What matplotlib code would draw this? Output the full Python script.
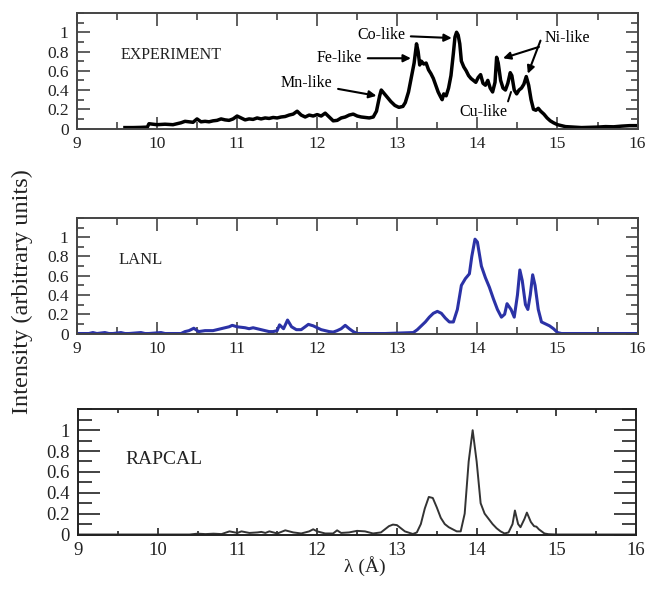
import matplotlib
matplotlib.use("Agg")
import matplotlib.pyplot as plt
from matplotlib.ticker import MultipleLocator, FixedLocator, FormatStrFormatter

plt.rcParams['font.family'] = ['Liberation Serif', 'DejaVu Serif']

# EXPERIMENT spectrum
exp_x = [9.60, 9.70, 9.80, 9.88, 9.90, 9.95, 10.00, 10.10, 10.20, 10.25, 10.30, 10.35,
         10.40, 10.45, 10.50, 10.55, 10.60, 10.65, 10.70, 10.75, 10.80, 10.85, 10.90, 10.95,
         11.00, 11.05, 11.10, 11.15, 11.20, 11.25, 11.30, 11.35, 11.40, 11.45, 11.50, 11.55,
         11.60, 11.65, 11.70, 11.75, 11.80, 11.85, 11.90, 11.95, 12.00, 12.05, 12.10, 12.15,
         12.20, 12.25, 12.30, 12.35, 12.40, 12.45, 12.50, 12.55, 12.60, 12.65, 12.70, 12.74,
         12.78, 12.80, 12.83, 12.87, 12.92, 12.97, 13.02, 13.07, 13.10, 13.14, 13.18, 13.21,
         13.24, 13.26, 13.28, 13.30, 13.33, 13.36, 13.39, 13.42, 13.45, 13.48, 13.51, 13.54,
         13.56, 13.58, 13.61, 13.64, 13.67, 13.70, 13.72, 13.74, 13.76, 13.78, 13.80, 13.83,
         13.86, 13.89, 13.92, 13.95, 13.98, 14.01, 14.04, 14.07, 14.10, 14.13, 14.16, 14.19,
         14.22, 14.24, 14.26, 14.29, 14.32, 14.35, 14.38, 14.41, 14.43, 14.46, 14.49, 14.52,
         14.55, 14.58, 14.61, 14.64, 14.67, 14.70, 14.73, 14.76, 14.79, 14.83, 14.87, 14.91,
         14.95, 15.00, 15.05, 15.10, 15.20, 15.30, 15.40, 15.50, 15.60, 15.70, 15.80, 15.90,
         16.00]
exp_y = [0.010, 0.010, 0.012, 0.015, 0.050, 0.045, 0.040, 0.045, 0.040, 0.050, 0.060, 0.075,
         0.070, 0.065, 0.100, 0.070, 0.075, 0.070, 0.080, 0.085, 0.100, 0.090, 0.085, 0.100,
         0.130, 0.110, 0.090, 0.100, 0.095, 0.110, 0.100, 0.110, 0.105, 0.115, 0.110, 0.120,
         0.125, 0.140, 0.150, 0.180, 0.140, 0.120, 0.140, 0.130, 0.145, 0.130, 0.160, 0.120,
         0.080, 0.085, 0.110, 0.120, 0.140, 0.150, 0.130, 0.120, 0.115, 0.110, 0.120, 0.180,
         0.340, 0.400, 0.370, 0.330, 0.280, 0.240, 0.220, 0.230, 0.270, 0.380, 0.550, 0.680,
         0.880, 0.800, 0.660, 0.700, 0.670, 0.680, 0.610, 0.570, 0.520, 0.450, 0.380, 0.330,
         0.300, 0.360, 0.340, 0.420, 0.550, 0.780, 0.950, 1.000, 0.970, 0.880, 0.700, 0.640,
         0.600, 0.550, 0.520, 0.500, 0.480, 0.530, 0.560, 0.470, 0.450, 0.500, 0.420, 0.380,
         0.480, 0.740, 0.680, 0.500, 0.420, 0.400, 0.470, 0.580, 0.550, 0.400, 0.360, 0.400,
         0.420, 0.460, 0.540, 0.450, 0.300, 0.200, 0.190, 0.210, 0.180, 0.150, 0.110, 0.080,
         0.060, 0.040, 0.030, 0.020, 0.015, 0.010, 0.012, 0.015, 0.020, 0.018, 0.025, 0.030,
         0.030]

# LANL calculation
lanl_x = [9.00, 9.15, 9.20, 9.25, 9.35, 9.40, 9.45, 9.55, 9.60, 9.65, 9.80, 9.85, 9.90,
          10.05, 10.10, 10.30, 10.35, 10.40, 10.46, 10.52, 10.60, 10.70, 10.80, 10.90, 10.94,
          11.00, 11.10, 11.15, 11.20, 11.25, 11.30, 11.35, 11.40, 11.45, 11.50, 11.53, 11.58,
          11.63, 11.68, 11.74, 11.80, 11.85, 11.89, 11.95, 12.00, 12.05, 12.10, 12.15, 12.20,
          12.25, 12.30, 12.35, 12.40, 12.45, 12.50, 12.85, 13.20, 13.25, 13.30, 13.35, 13.40,
          13.45, 13.50, 13.55, 13.60, 13.65, 13.70, 13.75, 13.80, 13.85, 13.90, 13.93, 13.97,
          14.00, 14.05, 14.10, 14.15, 14.20, 14.25, 14.30, 14.34, 14.37, 14.42, 14.46, 14.50,
          14.53, 14.56, 14.60, 14.63, 14.66, 14.69, 14.72, 14.76, 14.80, 14.85, 14.90, 14.95,
          15.00, 15.05, 16.00]
lanl_y = [0.000, 0.000, 0.010, 0.000, 0.010, 0.000, 0.000, 0.010, 0.000, 0.000, 0.010, 0.000,
          0.000, 0.010, 0.000, 0.000, 0.020, 0.030, 0.055, 0.020, 0.030, 0.030, 0.050, 0.070,
          0.085, 0.070, 0.060, 0.050, 0.060, 0.050, 0.040, 0.030, 0.020, 0.020, 0.030, 0.090,
          0.050, 0.140, 0.070, 0.040, 0.040, 0.070, 0.095, 0.080, 0.060, 0.040, 0.030, 0.020,
          0.015, 0.030, 0.050, 0.085, 0.050, 0.020, 0.000, 0.000, 0.010, 0.040, 0.080, 0.120,
          0.170, 0.210, 0.230, 0.210, 0.160, 0.120, 0.120, 0.250, 0.500, 0.570, 0.620, 0.800,
          0.980, 0.950, 0.700, 0.580, 0.480, 0.360, 0.250, 0.170, 0.200, 0.310, 0.250, 0.170,
          0.400, 0.660, 0.550, 0.300, 0.250, 0.400, 0.610, 0.500, 0.250, 0.120, 0.100, 0.080,
          0.050, 0.010, 0.000, 0.000]

# RAPCAL calculation
rap_x = [9.00, 10.40, 10.50, 10.60, 10.70, 10.80, 10.90, 11.00, 11.05, 11.15, 11.25, 11.30,
         11.35, 11.40, 11.50, 11.60, 11.70, 11.80, 11.90, 11.95, 12.00, 12.10, 12.20, 12.25,
         12.30, 12.40, 12.50, 12.60, 12.70, 12.80, 12.85, 12.90, 12.95, 13.00, 13.05, 13.10,
         13.20, 13.25, 13.30, 13.35, 13.40, 13.45, 13.50, 13.55, 13.60, 13.65, 13.70, 13.75,
         13.80, 13.85, 13.90, 13.95, 14.00, 14.05, 14.10, 14.15, 14.20, 14.25, 14.30, 14.35,
         14.40, 14.45, 14.48, 14.52, 14.55, 14.60, 14.63, 14.68, 14.72, 14.75, 14.78, 14.85,
         14.90, 15.00, 16.00]
rap_y = [0.000, 0.000, 0.008, 0.004, 0.008, 0.004, 0.030, 0.015, 0.030, 0.015, 0.020, 0.025,
         0.015, 0.030, 0.010, 0.040, 0.020, 0.010, 0.030, 0.050, 0.030, 0.010, 0.010, 0.040,
         0.015, 0.020, 0.035, 0.030, 0.010, 0.020, 0.050, 0.080, 0.095, 0.090, 0.060, 0.030,
         0.005, 0.020, 0.100, 0.250, 0.360, 0.350, 0.260, 0.160, 0.100, 0.070, 0.050, 0.030,
         0.030, 0.200, 0.700, 1.000, 0.700, 0.300, 0.200, 0.150, 0.100, 0.060, 0.030, 0.010,
         0.020, 0.100, 0.230, 0.100, 0.070, 0.150, 0.210, 0.120, 0.080, 0.075, 0.050, 0.010,
         0.003, 0.000, 0.000]

yticks = [0, 0.2, 0.4, 0.6, 0.8, 1.0]

fig = plt.figure(figsize=(6.46, 5.99), dpi=100)
ax1 = fig.add_axes([0.119, 0.7846, 0.868, 0.1937])
ax2 = fig.add_axes([0.119, 0.4424, 0.868, 0.1937])
ax3 = fig.add_axes([0.1207, 0.1068, 0.864, 0.2099])


def style(ax, fs, ymaj, ymin, xmaj, xmin, col):
    ax.set_xlim(9, 16)
    ax.set_ylim(-0.005, 1.2)
    ax.xaxis.set_major_locator(MultipleLocator(1))
    ax.xaxis.set_minor_locator(MultipleLocator(0.5))
    ax.yaxis.set_major_locator(FixedLocator(yticks))
    ax.yaxis.set_minor_locator(MultipleLocator(0.1))
    ax.yaxis.set_major_formatter(FormatStrFormatter('%g'))
    ax.tick_params(axis='y', which='major', direction='in', left=True, right=True,
                   length=ymaj, width=1.2, color=col, labelsize=fs, labelcolor='#222222', pad=6)
    ax.tick_params(axis='y', which='minor', direction='in', left=True, right=True,
                   length=ymin, width=1.2, color=col)
    ax.tick_params(axis='x', which='major', direction='in', top=True, bottom=True,
                   length=xmaj, width=1.2, color=col, labelsize=fs, labelcolor='#222222', pad=5)
    ax.tick_params(axis='x', which='minor', direction='in', top=True, bottom=True,
                   length=xmin, width=1.2, color=col)
    for s in ax.spines.values():
        s.set_linewidth(1.4)
        s.set_color(col)


style(ax1, 12.5, 9, 5, 9, 5, '#444444')
style(ax2, 12.5, 9, 5, 9, 5, '#444444')
style(ax3, 13.5, 16, 10, 5, 3, '#222222')

ax1.plot(exp_x, exp_y, color='black', linewidth=2.5)
ax2.plot(lanl_x, lanl_y, color='#2b32a6', linewidth=2.2)
ax3.plot(rap_x, rap_y, color='#333333', linewidth=1.4)

ax1.text(9.55, 0.76, 'EXPERIMENT', fontsize=11.5, va='center', color='#222222')
ax2.text(9.52, 0.76, 'LANL', fontsize=12, va='center', color='#222222')
ax3.text(9.6, 0.72, 'RAPCAL', fontsize=14, va='center', color='#222222')

fs_ann = 11.5
arr = dict(arrowstyle='-|>', color='black', lw=1.5, mutation_scale=11, shrinkA=2, shrinkB=0)
ax1.annotate('Mn-like', xy=(12.74, 0.34), xytext=(11.87, 0.47), fontsize=fs_ann,
             ha='center', va='center', arrowprops=arr)
ax1.annotate('Fe-like', xy=(13.17, 0.73), xytext=(12.28, 0.73), fontsize=fs_ann,
             ha='center', va='center', arrowprops=arr)
ax1.annotate('Co-like', xy=(13.68, 0.94), xytext=(12.80, 0.97), fontsize=fs_ann,
             ha='center', va='center', arrowprops=arr)
ax1.annotate('Ni-like', xy=(14.32, 0.73), xytext=(15.12, 0.94), fontsize=fs_ann,
             ha='center', va='center', arrowprops=arr)
ax1.annotate('', xy=(14.63, 0.57), xytext=(14.80, 0.94), arrowprops=arr)
ax1.annotate('Cu-like', xy=(14.42, 0.38), xytext=(14.07, 0.17), fontsize=fs_ann,
             ha='center', va='center',
             arrowprops=dict(arrowstyle='-', color='black', lw=1.4,
                             relpos=(0.95, 0.5), shrinkA=0, shrinkB=0))

fig.text(0.034, 1 - 292 / 599, 'Intensity (arbitrary units)', rotation=90,
         ha='center', va='center', fontsize=17.5, color='#222222')
fig.text(365 / 646, 1 - 566 / 599, 'λ (Å)', ha='center', va='center',
         fontsize=14, color='#222222')

fig.savefig('out.png', dpi=100)
